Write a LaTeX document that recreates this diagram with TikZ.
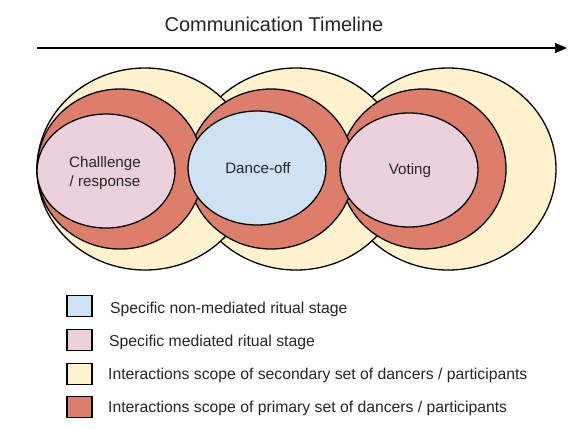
\documentclass[tikz,border=0pt]{standalone}
\usepackage{fontspec}
\setmainfont{Liberation Sans}
\usetikzlibrary{shapes.geometric,arrows.meta}

\definecolor{scopesec}{HTML}{FFF2CC}
\definecolor{scopepri}{HTML}{DD7E6B}
\definecolor{stagemed}{HTML}{EAD1DC}
\definecolor{stagenon}{HTML}{CFE2F3}
\definecolor{inktext}{HTML}{262626}

\begin{document}
\begin{tikzpicture}[x=1bp,y=-1bp,
  ring/.style={ellipse, draw=black, line width=1.3bp, inner sep=0pt},
  secondary/.style={ring, fill=scopesec, minimum width=216bp, minimum height=202bp},
  primary/.style={ring, fill=scopepri, minimum width=166bp, minimum height=160bp},
  stage/.style={ring, minimum width=138bp, minimum height=114bp},
  stagetext/.style={align=center, text=inktext, inner sep=0pt,
    font=\fontsize{15.2}{18.5}\selectfont},
  legbox/.style={draw=black, line width=1.5bp, minimum width=25bp,
    minimum height=21bp, inner sep=0pt},
  legtext/.style={anchor=west, text=inktext, inner sep=0pt,
    font=\fontsize{15.8}{18}\selectfont}]
\useasboundingbox (0,0) rectangle (581,429);
\fill[white] (0,0) rectangle (581,429);

% title and timeline arrow
\node[text=inktext, font=\fontsize{20}{24}\selectfont] (title) at (274,24) {Communication Timeline};
\coordinate (tstart) at (37,48);
\coordinate (tend) at (567,48);
\draw[line width=1.4bp, -{Triangle[length=12bp,width=10bp]}] (tstart) -- (tend);

% secondary scopes, back to front
\node[secondary] (sec3) at (448,169) {};
\node[secondary] (sec2) at (296,169) {};
\node[secondary] (sec1) at (145,169) {};

% primary scopes
\node[primary] (pri3) at (423,169) {};
\node[primary] (pri2) at (271,169) {};
\node[primary] (pri1) at (120,169) {};

% ritual stages
\node[stage, fill=stagemed] (st1) at (106,171) {};
\node[stage, fill=stagenon] (st2) at (257,168) {};
\node[stage, fill=stagemed] (st3) at (409,170) {};
\node[stagetext] (st1t) at (105,173) {Challlenge\\/ response};
\node[stagetext] (st2t) at (258,168) {Dance-off};
\node[stagetext] (st3t) at (410,171) {Voting};

% legend
\node[legbox, fill=stagenon] (leg1) at (79.5,306) {};
\node[legbox, fill=stagemed] (leg2) at (79.5,340) {};
\node[legbox, fill=scopesec] (leg3) at (79.5,374) {};
\node[legbox, fill=scopepri] (leg4) at (79.5,407) {};
\node[legtext] (lt1) at (110,309) {Specific non-mediated ritual stage};
\node[legtext] (lt2) at (109,342) {Specific mediated ritual stage};
\node[legtext] (lt3) at (108,375) {Interactions scope of secondary set of dancers / participants};
\node[legtext] (lt4) at (108,408) {Interactions scope of primary set of dancers / participants};
\end{tikzpicture}
\end{document}
